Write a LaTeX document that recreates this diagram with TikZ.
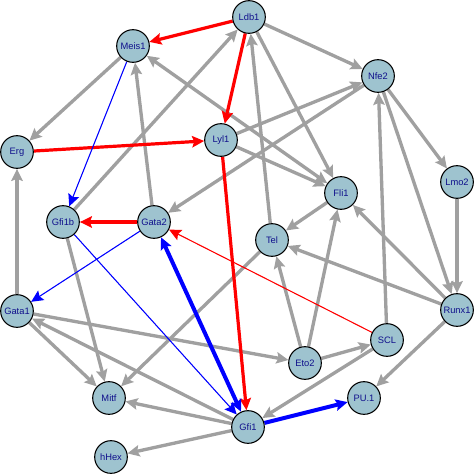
\documentclass[tikz,border=0pt]{standalone}
\usepackage{fontspec}
\setmainfont{Liberation Sans}
\usetikzlibrary{arrows.meta}
\definecolor{genefill}{HTML}{9EC3CF}
\definecolor{genetext}{HTML}{10108C}
\definecolor{edgegray}{HTML}{A0A0A0}
\pgfdeclarelayer{links}
\pgfsetlayers{links,main}

\begin{document}
\begin{tikzpicture}[
  x=0.75pt, y=-0.75pt,
  gene/.style={circle, draw, line width=0.8pt, fill=genefill, minimum size=24.5pt, inner sep=0pt,
    text=genetext, font=\fontsize{7}{8}\selectfont},
  tip/.style={-{Stealth[length=9pt, width=8.5pt, inset=1.5pt]}},
  both/.style={{Stealth[length=9pt, width=8.5pt, inset=1.5pt]}-{Stealth[length=9pt, width=8.5pt, inset=1.5pt]}},
  arr/.style={tip, draw=edgegray, fill=edgegray, line width=2.5pt},
  redarr/.style={tip, draw=red, fill=red, line width=2.4pt},
  redthin/.style={tip, draw=red, fill=red, line width=0.8pt},
  bluearr/.style={tip, draw=blue, fill=blue, line width=3pt},
  bluethin/.style={tip, draw=blue, fill=blue, line width=0.8pt}
]
  \useasboundingbox (0,0) rectangle (474,474);

  \node[gene] (ldb) at (249,17) {Ldb1};
  \node[gene] (meis) at (133,46) {Meis1};
  \node[gene] (nfe) at (378,76) {Nfe2};
  \node[gene] (erg) at (17,152) {Erg};
  \node[gene] (lyl) at (221,140) {Lyl1};
  \node[gene] (lmo) at (457,182) {Lmo2};
  \node[gene] (fli) at (341,193) {Fli1};
  \node[gene] (gfib) at (63,222) {Gfi1b};
  \node[gene] (gata2) at (154,222) {Gata2};
  \node[gene] (tel) at (272,240) {Tel};
  \node[gene] (gata1) at (17,311) {Gata1};
  \node[gene] (runx) at (457,310) {Runx1};
  \node[gene] (scl) at (387,340) {SCL};
  \node[gene] (eto) at (305,363) {Eto2};
  \node[gene] (mitf) at (109,398) {Mitf};
  \node[gene] (pu) at (364,398) {PU.1};
  \node[gene] (gfi) at (248,427) {Gfi1};
  \node[gene] (hhex) at (111,457) {hHex};

  \begin{pgfonlayer}{links}
  % grey links
  \draw[arr] (meis) -- (erg);
  \draw[arr] (gata2) -- (meis);
  \draw[arr, both] (meis) -- (fli);
  \draw[arr] (gfib) -- (ldb);
  \draw[arr] (tel) -- (ldb);
  \draw[arr] (ldb) -- (nfe);
  \draw[arr] (ldb) -- (fli);
  \draw[arr] (lyl) -- (nfe);
  \draw[arr] (lyl) -- (fli);
  \draw[arr] (nfe) -- (gata2);
  \draw[arr] (nfe) -- (lmo);
  \draw[arr] (nfe) -- (runx);
  \draw[arr] (scl) -- (nfe);
  \draw[arr] (lmo) -- (runx);
  \draw[arr] (runx) -- (fli);
  \draw[arr] (runx) -- (tel);
  \draw[arr] (runx) -- (pu);
  \draw[arr] (fli) -- (tel);
  \draw[arr] (eto) -- (tel);
  \draw[arr] (eto) -- (fli);
  \draw[arr] (eto) -- (scl);
  \draw[arr] (scl) -- (gfi);
  \draw[arr] (gata1) -- (erg);
  \draw[arr] (gata1) -- (eto);
  \draw[arr] (gata1) -- (mitf);
  \draw[arr] (gfib) -- (mitf);
  \draw[arr] (tel) -- (mitf);
  \draw[arr] (gfi) -- (mitf);
  \draw[arr] (gfi) -- (hhex);
  \draw[arr] (gfi) -- (gata1);

  % red links
  \draw[redarr] (ldb) -- (meis);
  \draw[redarr] (ldb) -- (lyl);
  \draw[redarr] (erg) -- (lyl);
  \draw[redarr] (lyl) -- (gfi);
  \draw[redarr] (gata2) -- (gfib);
  \draw[redthin] (scl) -- (gata2);

  % blue links
  \draw[bluethin] (meis) -- (gfib);
  \draw[bluethin] (gata2) -- (gata1);
  \draw[bluethin] (gfib) -- (gfi);
  \draw[bluearr, both] (gata2) -- (gfi);
  \draw[bluearr] (gfi) -- (pu);
  \end{pgfonlayer}
\end{tikzpicture}
\end{document}
